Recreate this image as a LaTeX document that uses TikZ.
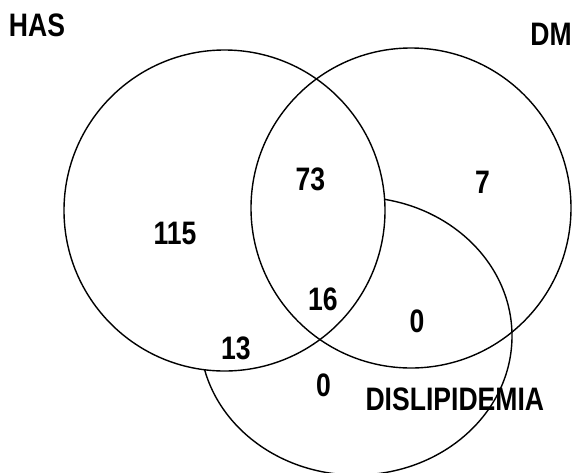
\documentclass[tikz,border=0pt]{standalone}
\usepackage{fontspec}
\newfontfamily\narrowfont[FakeStretch=0.817]{Liberation Sans}
\begin{document}
\begin{tikzpicture}[x=1pt,y=-1pt,
  lbl/.style={font=\narrowfont\bfseries\fontsize{32.5}{34}\selectfont, inner sep=0pt},
  venn/.style={line width=1.4pt}]
\useasboundingbox (0,0) rectangle (573,472);
\clip (0,0) rectangle (573,472);
\coordinate (cdis) at (356,336);
\coordinate (chas) at (224.5,210.5);
\coordinate (cdm) at (411,208);
\draw[venn] (cdis) ellipse [x radius=156, y radius=139];
\draw[venn, fill=white] (chas) circle [radius=160.5];
\draw[venn] (cdm) circle [radius=160];
\node[lbl] (has) at (37,25.5) {HAS};
\node[lbl] (dm) at (551,34) {DM};
\node[lbl] (dis) at (454.8,399) {DISLIPIDEMIA};
\node[lbl] (n115) at (175,233) {115};
\node[lbl] (n73) at (310.5,179.5) {73};
\node[lbl] (n7) at (482.6,182) {7};
\node[lbl] (n16) at (323,299.5) {16};
\node[lbl] (n0a) at (417,321) {0};
\node[lbl] (n13) at (236,348.3) {13};
\node[lbl] (n0b) at (323.5,385.3) {0};
\end{tikzpicture}
\end{document}
